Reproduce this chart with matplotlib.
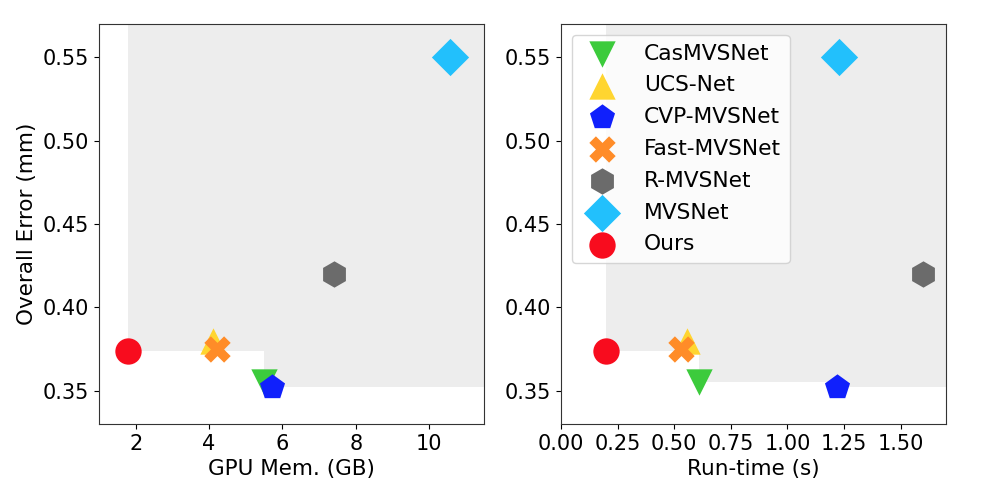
import numpy as np
from matplotlib import pyplot as plt
from matplotlib.patches import Rectangle

plt.rcParams['font.family'] = ['DejaVu Sans']

methods = ['CasMVSNet', 'UCS-Net', 'CVP-MVSNet', 'Fast-MVSNet', 'R-MVSNet', 'MVSNet', 'Ours']
markers = ['v', '^', 'p', 'X', 'h', 'D', 'o']
colors = ['#3ccb3c', '#ffd530', '#1020fc', '#ff8c28', '#6b6b6b', '#22c0fc', '#f80c1e']

gpu_mem = [5.5, 4.1, 5.73, 4.21, 7.42, 10.56, 1.8]
run_time = [0.61, 0.557, 1.22, 0.53, 1.6, 1.228, 0.2]
overall_err = [0.355, 0.38, 0.352, 0.375, 0.42, 0.55, 0.374]

fig = plt.figure(figsize=(9.82, 4.86), dpi=100)
ax1 = fig.add_axes([0.1008, 0.1276, 0.3922, 0.823])
ax2 = fig.add_axes([0.5713, 0.1276, 0.392, 0.823])


def draw(ax, xs, xlim):
    # 被支配区域（每个点右上方）
    for x, y in zip(xs, overall_err):
        ax.add_patch(Rectangle((x, y), 100, 100, facecolor='#ededed',
                               edgecolor='none', zorder=0))
    for i, m in enumerate(methods):
        ax.scatter(xs[i], overall_err[i], marker=markers[i], s=360,
                   color=colors[i], label=m, zorder=3, linewidths=0)
    ax.set_xlim(*xlim)
    ax.set_ylim(0.33, 0.57)
    ax.set_yticks([0.35, 0.40, 0.45, 0.50, 0.55])
    ax.tick_params(labelsize=15)
    for s in ax.spines.values():
        s.set_color('#333333')


draw(ax1, gpu_mem, (1.0, 11.5))
ax1.set_xticks([2, 4, 6, 8, 10])
ax1.set_xlabel('GPU Mem. (GB)', fontsize=15.5)
ax1.set_ylabel('Overall Error (mm)', fontsize=15.5)

draw(ax2, run_time, (0.0, 1.7))
ax2.set_xticks([0.0, 0.25, 0.5, 0.75, 1.0, 1.25, 1.5])
ax2.set_xlabel('Run-time (s)', fontsize=15.5)
ax2.legend(loc='upper left', fontsize=15.7, scatterpoints=1,
           labelspacing=0.54, handletextpad=0.9)

plt.savefig('out.png', dpi=100)
